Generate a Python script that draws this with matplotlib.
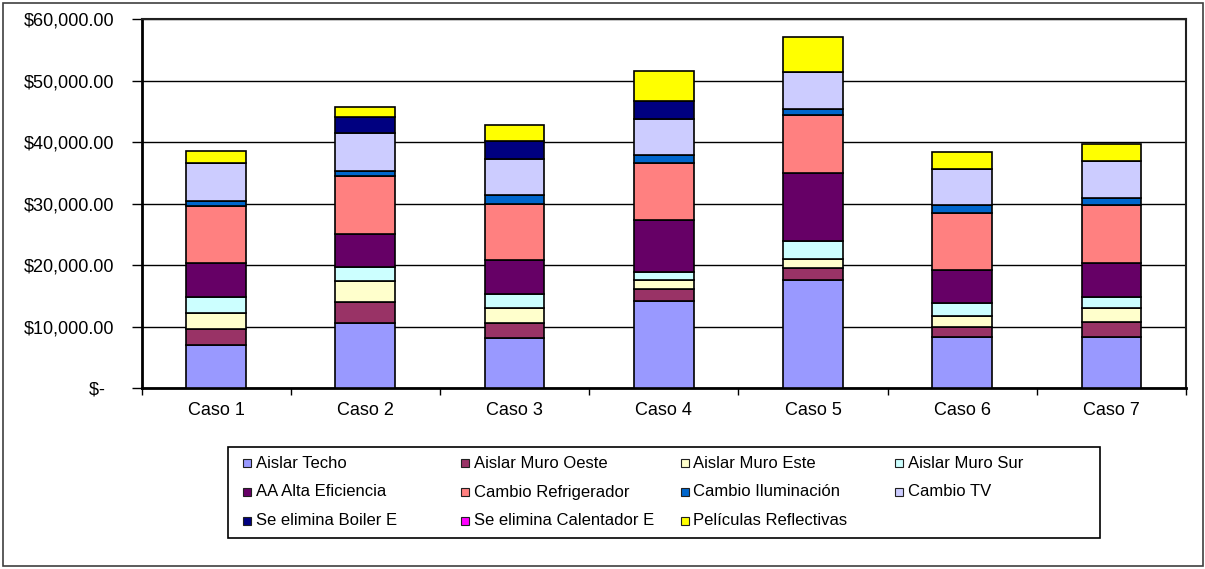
import matplotlib
matplotlib.use("Agg")
import matplotlib.pyplot as plt
from matplotlib.patches import Rectangle
import numpy as np

plt.rcParams['font.family'] = ['Liberation Sans', 'DejaVu Sans']

# DATOS
casos = ["Caso 1", "Caso 2", "Caso 3", "Caso 4", "Caso 5", "Caso 6", "Caso 7"]
series = ["Aislar Techo", "Aislar Muro Oeste", "Aislar Muro Este", "Aislar Muro Sur",
          "AA Alta Eficiencia", "Cambio Refrigerador", "Cambio Iluminación", "Cambio TV",
          "Se elimina Boiler E", "Se elimina Calentador E", "Películas Reflectivas"]
aislar_techo = [7050, 10680, 8180, 14250, 17620, 8400, 8400]
aislar_oeste = [2550, 3360, 2490, 1840, 1900, 1520, 2440]
aislar_este = [2710, 3360, 2440, 1520, 1570, 1900, 2280]
aislar_sur = [2490, 2280, 2280, 1350, 2930, 2000, 1790]
aa_eficiencia = [5530, 5420, 5470, 8400, 10950, 5420, 5420]
refrigerador = [9320, 9430, 9110, 9210, 9490, 9210, 9490]
iluminacion = [870, 870, 1460, 1360, 920, 1360, 1080]
cambio_tv = [6070, 6070, 5800, 5850, 6070, 5800, 6120]
boiler = [0, 2710, 2930, 2980, 0, 0, 0]
calentador = [0, 0, 0, 0, 0, 0, 0]
peliculas = [2010, 1630, 2710, 4880, 5640, 2760, 2710]
valores = [aislar_techo, aislar_oeste, aislar_este, aislar_sur, aa_eficiencia, refrigerador,
           iluminacion, cambio_tv, boiler, calentador, peliculas]
colores = ["#9999FF", "#993366", "#FFFFCC", "#CCFFFF", "#660066", "#FF8080",
           "#0066CC", "#CCCCFF", "#000080", "#FF00FF", "#FFFF00"]
yticks = [0, 10000, 20000, 30000, 40000, 50000, 60000]
ytick_labels = ["$-  ", "$10,000.00", "$20,000.00", "$30,000.00", "$40,000.00",
                "$50,000.00", "$60,000.00"]

W, H = 1205, 569
fig = plt.figure(figsize=(W/100, H/100), dpi=100)
ax = fig.add_axes([141.5/W, (H-388.3)/H, (1186-141.5)/W, (388.3-19.3)/H])

x = np.arange(len(casos))
base = np.zeros(len(casos))
for vals, col, nom in zip(valores, colores, series):
    vals = np.array(vals, dtype=float)
    ax.bar(x, vals, 0.40, bottom=base, color=col, edgecolor="black", linewidth=1.2,
           label=nom, zorder=3)
    base += vals

ax.set_xlim(-0.5, len(casos)-0.5)
ax.set_ylim(0, 60000)
ax.set_yticks(yticks)
ax.set_yticklabels(ytick_labels, fontsize=13)
ax.set_xticks(x)
ax.set_xticklabels(casos, fontsize=13)
ax.set_xticks(np.arange(-0.5, len(casos)), minor=True)
ax.tick_params(axis="x", which="major", length=0, pad=10)
ax.tick_params(axis="x", which="minor", length=5, width=1, direction="out")
ax.tick_params(axis="y", length=7, width=1, direction="out", pad=12.5)
ax.yaxis.grid(True, color="black", linewidth=1)
ax.set_axisbelow(True)
for s in ["left", "bottom"]:
    ax.spines[s].set_linewidth(2)
    ax.spines[s].set_color("black")
for s in ["top", "right"]:
    ax.spines[s].set_linewidth(1.5)
    ax.spines[s].set_color("#202020")

# borde exterior
fig.patches.append(Rectangle((3/W, 3/H), (1203-3)/W, (566-3)/H, transform=fig.transFigure,
                             fill=False, edgecolor="#404040", linewidth=1.2))

# leyenda (columnas de igual ancho, como en Excel)
fig.patches.append(Rectangle((228.3/W, (H-538)/H), (1100-228.3)/W, (538-447.3)/H,
                             transform=fig.transFigure, fill=False, edgecolor="black",
                             linewidth=1.2))
col_x = [243, 461, 680.5, 895]
fila_y = [463, 492, 520.7]
for i, (nom, col) in enumerate(zip(series, colores)):
    cx = col_x[i % 4]
    cy = fila_y[i // 4]
    fig.patches.append(Rectangle((cx/W, (H-cy-4)/H), 8/W, 8/H, transform=fig.transFigure,
                                 facecolor=col, edgecolor="#202020", linewidth=0.8))
    fig.text((cx+12.5)/W, (H-cy)/H, nom, fontsize=12, va="center", ha="left")

fig.savefig("out.png", dpi=100)
